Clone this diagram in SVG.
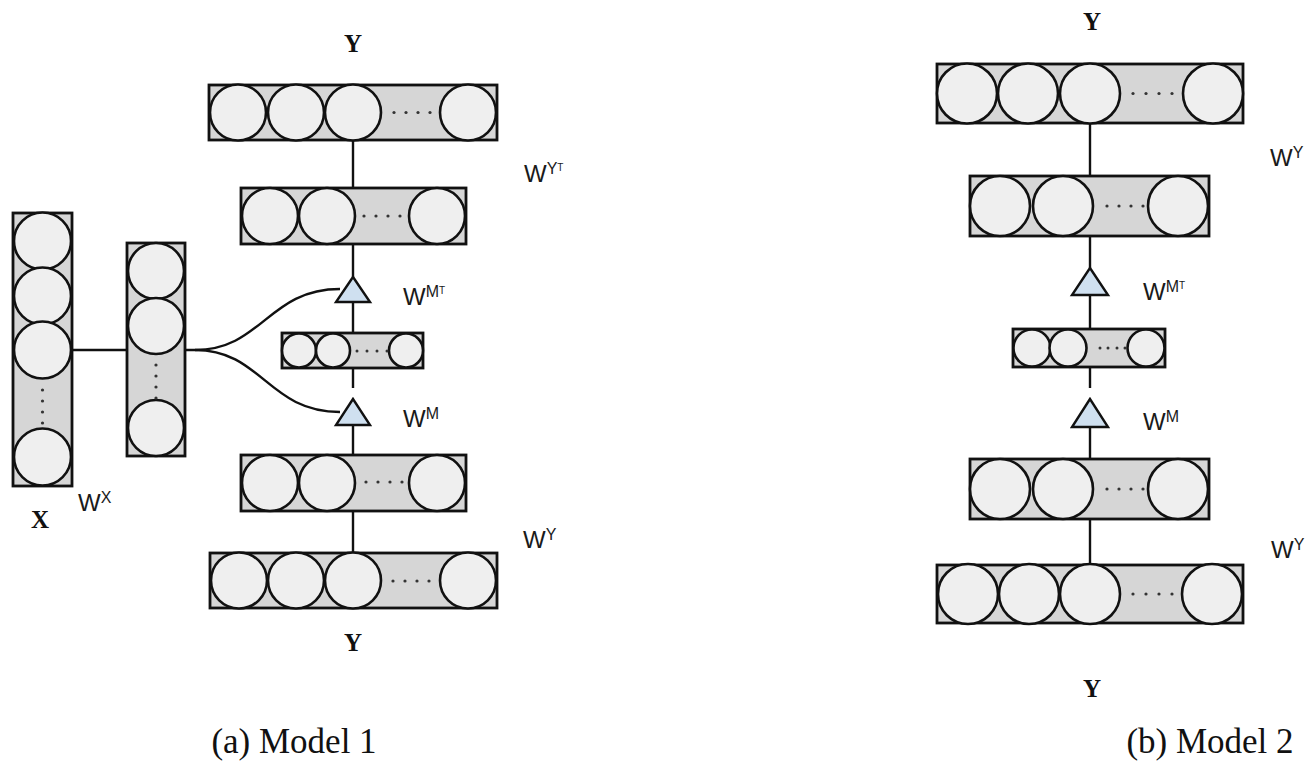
<svg xmlns="http://www.w3.org/2000/svg" width="1313" height="769" viewBox="0 0 1313 769">
  <style>
    .layer { fill: #d6d6d6; stroke: #111111; stroke-width: 2.8; }
    .unit { fill: #efefef; stroke: #111111; stroke-width: 2.6; }
    .dot { fill: #333333; }
    .gate { fill: #cfe0f0; stroke: #111111; stroke-width: 2.4; stroke-linejoin: miter; }
    .edge { fill: none; stroke: #111111; stroke-width: 2.4; }
    .w { font-family: "Liberation Sans", Arial, sans-serif; font-size: 24px; fill: #1a1a1a; }
    .sup { font-size: 16px; }
    .supt { font-size: 10px; }
    .var { font-family: "Liberation Serif", "Times New Roman", serif; font-weight: bold; font-size: 25px; fill: #111111; text-anchor: middle; }
    .cap { font-family: "Liberation Serif", "Times New Roman", serif; font-size: 35px; fill: #111111; text-anchor: middle; }
  </style>

  <rect width="1313" height="769" fill="#ffffff"/>

  <!-- connectors -->
  <g id="connectors">
    <!-- model 1 -->
    <line class="edge" x1="72" y1="350" x2="127" y2="350"/>
    <path class="edge" d="M185,350 L195,350 C262,350 268,289 340,289"/>
    <path class="edge" d="M195,350 C262,350 268,412 340,412"/>
    <line class="edge" x1="353" y1="140" x2="353" y2="188"/>
    <line class="edge" x1="353" y1="244" x2="353" y2="277"/>
    <line class="edge" x1="353" y1="302" x2="353" y2="333"/>
    <line class="edge" x1="353" y1="368" x2="353" y2="388"/>
    <line class="edge" x1="353" y1="425" x2="353" y2="455"/>
    <line class="edge" x1="353" y1="511" x2="353" y2="553"/>
    <!-- model 2 -->
    <line class="edge" x1="1090" y1="123" x2="1090" y2="176"/>
    <line class="edge" x1="1090" y1="236" x2="1090" y2="268"/>
    <line class="edge" x1="1090" y1="295" x2="1090" y2="329"/>
    <line class="edge" x1="1090" y1="367" x2="1090" y2="388"/>
    <line class="edge" x1="1090" y1="427" x2="1090" y2="459"/>
    <line class="edge" x1="1090" y1="519" x2="1090" y2="565"/>
  </g>

  <!-- ===== Model 1 ===== -->
  <g id="m1-x-input">
    <rect class="layer" x="13" y="213" width="59" height="273"/>
    <circle class="unit" cx="42.5" cy="241" r="28.5"/>
    <circle class="unit" cx="42.5" cy="296" r="28.5"/>
    <circle class="unit" cx="42.5" cy="350" r="28.5"/>
    <circle class="unit" cx="42.5" cy="457" r="28.5"/>
    <circle class="dot" cx="42.5" cy="390" r="1.6"/>
    <circle class="dot" cx="42.5" cy="401" r="1.6"/>
    <circle class="dot" cx="42.5" cy="412" r="1.6"/>
    <circle class="dot" cx="42.5" cy="423" r="1.6"/>
  </g>

  <g id="m1-x-hidden">
    <rect class="layer" x="127" y="243" width="58" height="213"/>
    <circle class="unit" cx="156" cy="271" r="28"/>
    <circle class="unit" cx="156" cy="326" r="28"/>
    <circle class="unit" cx="156" cy="428" r="28"/>
    <circle class="dot" cx="156" cy="365" r="1.6"/>
    <circle class="dot" cx="156" cy="376" r="1.6"/>
    <circle class="dot" cx="156" cy="387" r="1.6"/>
    <circle class="dot" cx="156" cy="398" r="1.6"/>
  </g>

  <g id="m1-y-output">
    <rect class="layer" x="209" y="85" width="288" height="55"/>
    <circle class="unit" cx="238" cy="112.5" r="28"/>
    <circle class="unit" cx="296" cy="112.5" r="28"/>
    <circle class="unit" cx="353" cy="112.5" r="28"/>
    <circle class="unit" cx="468" cy="112.5" r="28"/>
    <circle class="dot" cx="394" cy="112.5" r="1.6"/>
    <circle class="dot" cx="406" cy="112.5" r="1.6"/>
    <circle class="dot" cx="418" cy="112.5" r="1.6"/>
    <circle class="dot" cx="430" cy="112.5" r="1.6"/>
  </g>

  <g id="m1-y-decoder">
    <rect class="layer" x="241" y="188" width="225" height="56"/>
    <circle class="unit" cx="270" cy="216" r="28"/>
    <circle class="unit" cx="327" cy="216" r="28"/>
    <circle class="unit" cx="437" cy="216" r="28"/>
    <circle class="dot" cx="364" cy="216" r="1.6"/>
    <circle class="dot" cx="376" cy="216" r="1.6"/>
    <circle class="dot" cx="388" cy="216" r="1.6"/>
    <circle class="dot" cx="400" cy="216" r="1.6"/>
  </g>

  <g id="m1-gate-up">
    <polygon class="gate" points="353,277 336,302 370,302"/>
  </g>

  <g id="m1-shared">
    <rect class="layer" x="282" y="333" width="141" height="35"/>
    <circle class="unit" cx="299" cy="350.5" r="17"/>
    <circle class="unit" cx="333" cy="350.5" r="17"/>
    <circle class="unit" cx="406" cy="350.5" r="17"/>
    <circle class="dot" cx="357" cy="351" r="1.5"/>
    <circle class="dot" cx="367" cy="351" r="1.5"/>
    <circle class="dot" cx="377" cy="351" r="1.5"/>
    <circle class="dot" cx="387" cy="351" r="1.5"/>
  </g>

  <g id="m1-gate-down">
    <polygon class="gate" points="353,399 336,425 370,425"/>
  </g>

  <g id="m1-y-encoder">
    <rect class="layer" x="241" y="455" width="225" height="56"/>
    <circle class="unit" cx="270" cy="483" r="28"/>
    <circle class="unit" cx="327" cy="483" r="28"/>
    <circle class="unit" cx="437" cy="483" r="28"/>
    <circle class="dot" cx="366" cy="482" r="1.6"/>
    <circle class="dot" cx="378" cy="482" r="1.6"/>
    <circle class="dot" cx="390" cy="482" r="1.6"/>
    <circle class="dot" cx="402" cy="482" r="1.6"/>
  </g>

  <g id="m1-y-input">
    <rect class="layer" x="210" y="553" width="287" height="55"/>
    <circle class="unit" cx="239" cy="580.5" r="28"/>
    <circle class="unit" cx="296" cy="580.5" r="28"/>
    <circle class="unit" cx="353" cy="580.5" r="28"/>
    <circle class="unit" cx="468" cy="580.5" r="28"/>
    <circle class="dot" cx="393" cy="581" r="1.6"/>
    <circle class="dot" cx="405" cy="581" r="1.6"/>
    <circle class="dot" cx="417" cy="581" r="1.6"/>
    <circle class="dot" cx="429" cy="581" r="1.6"/>
  </g>

  <g id="m1-labels">
    <text class="var" x="353" y="52">Y</text>
    <text class="var" x="353" y="651">Y</text>
    <text class="var" x="40" y="528">X</text>
    <text class="w" x="78" y="511">W<tspan class="sup" dy="-8">X</tspan></text>
    <text class="w" x="524" y="182">W<tspan class="sup" dy="-8">Y</tspan><tspan class="supt" dy="-3">T</tspan></text>
    <text class="w" x="403" y="305">W<tspan class="sup" dy="-8">M</tspan><tspan class="supt" dy="-3">T</tspan></text>
    <text class="w" x="403" y="427">W<tspan class="sup" dy="-8">M</tspan></text>
    <text class="w" x="523" y="548">W<tspan class="sup" dy="-8">Y</tspan></text>
    <text class="cap" x="294" y="753">(a) Model 1</text>
  </g>

  <!-- ===== Model 2 ===== -->
  <g id="m2-y-output">
    <rect class="layer" x="937" y="64" width="306" height="59"/>
    <circle class="unit" cx="967" cy="93.5" r="30"/>
    <circle class="unit" cx="1028" cy="93.5" r="30"/>
    <circle class="unit" cx="1090" cy="93.5" r="30"/>
    <circle class="unit" cx="1213" cy="93.5" r="30"/>
    <circle class="dot" cx="1133" cy="93.5" r="1.6"/>
    <circle class="dot" cx="1146" cy="93.5" r="1.6"/>
    <circle class="dot" cx="1159" cy="93.5" r="1.6"/>
    <circle class="dot" cx="1172" cy="93.5" r="1.6"/>
  </g>

  <g id="m2-y-decoder">
    <rect class="layer" x="970" y="176" width="239" height="60"/>
    <circle class="unit" cx="1000" cy="206" r="30"/>
    <circle class="unit" cx="1063" cy="206" r="30"/>
    <circle class="unit" cx="1178" cy="206" r="30"/>
    <circle class="dot" cx="1107" cy="206" r="1.6"/>
    <circle class="dot" cx="1119" cy="206" r="1.6"/>
    <circle class="dot" cx="1131" cy="206" r="1.6"/>
    <circle class="dot" cx="1143" cy="206" r="1.6"/>
  </g>

  <g id="m2-gate-up">
    <polygon class="gate" points="1090,268 1072,295 1108,295"/>
  </g>

  <g id="m2-shared">
    <rect class="layer" x="1013" y="329" width="152" height="38"/>
    <circle class="unit" cx="1032" cy="348" r="18.5"/>
    <circle class="unit" cx="1068" cy="348" r="18.5"/>
    <circle class="unit" cx="1146" cy="348" r="18.5"/>
    <circle class="dot" cx="1100" cy="348" r="1.5"/>
    <circle class="dot" cx="1108" cy="348" r="1.5"/>
    <circle class="dot" cx="1117" cy="348" r="1.5"/>
    <circle class="dot" cx="1125" cy="348" r="1.5"/>
  </g>

  <g id="m2-gate-down">
    <polygon class="gate" points="1090,399 1072,427 1108,427"/>
  </g>

  <g id="m2-y-encoder">
    <rect class="layer" x="970" y="459" width="239" height="60"/>
    <circle class="unit" cx="1000" cy="489" r="30"/>
    <circle class="unit" cx="1063" cy="489" r="30"/>
    <circle class="unit" cx="1178" cy="489" r="30"/>
    <circle class="dot" cx="1107" cy="489" r="1.6"/>
    <circle class="dot" cx="1119" cy="489" r="1.6"/>
    <circle class="dot" cx="1131" cy="489" r="1.6"/>
    <circle class="dot" cx="1143" cy="489" r="1.6"/>
  </g>

  <g id="m2-y-input">
    <rect class="layer" x="937" y="565" width="306" height="58"/>
    <circle class="unit" cx="968" cy="594" r="30"/>
    <circle class="unit" cx="1029" cy="594" r="30"/>
    <circle class="unit" cx="1090" cy="594" r="30"/>
    <circle class="unit" cx="1212" cy="594" r="30"/>
    <circle class="dot" cx="1133" cy="594" r="1.6"/>
    <circle class="dot" cx="1146" cy="594" r="1.6"/>
    <circle class="dot" cx="1159" cy="594" r="1.6"/>
    <circle class="dot" cx="1172" cy="594" r="1.6"/>
  </g>

  <g id="m2-labels">
    <text class="var" x="1092" y="30">Y</text>
    <text class="var" x="1092" y="697">Y</text>
    <text class="w" x="1270" y="166">W<tspan class="sup" dy="-8">Y</tspan></text>
    <text class="w" x="1143" y="300">W<tspan class="sup" dy="-8">M</tspan><tspan class="supt" dy="-3">T</tspan></text>
    <text class="w" x="1143" y="430">W<tspan class="sup" dy="-8">M</tspan></text>
    <text class="w" x="1271" y="558">W<tspan class="sup" dy="-8">Y</tspan></text>
    <text class="cap" x="1210" y="753">(b) Model 2</text>
  </g>
</svg>
